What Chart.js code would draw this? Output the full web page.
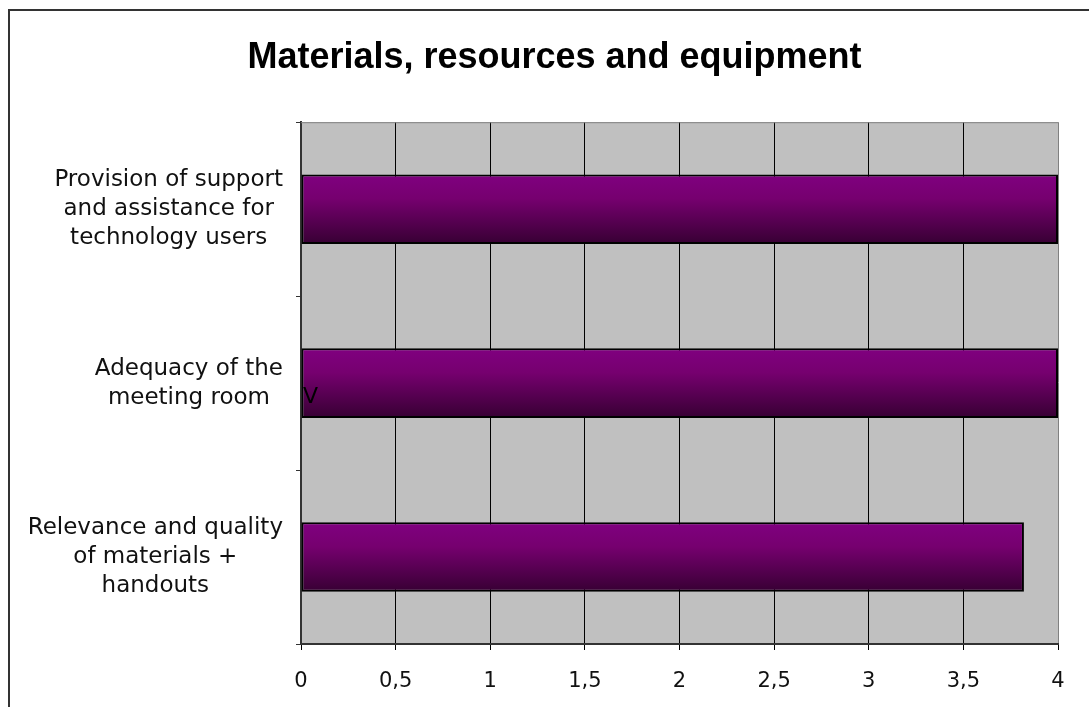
<!DOCTYPE html>
<html>
<head>
<meta charset="utf-8">
<title>Materials, resources and equipment</title>
<script src="https://cdn.jsdelivr.net/npm/chart.js@4.4.1/dist/chart.umd.min.js"></script>
<style>
  html, body { margin: 0; padding: 0; background: #fff; }
  #wrap { position: relative; width: 1089px; height: 707px; }
</style>
</head>
<body>
<div id="wrap"><canvas id="myChart"></canvas></div>
<script>
// categories, top to bottom
var categories = [
    ["Provision of support", "and assistance for", "technology users"],
    ["Adequacy of the", "meeting room"],
    ["Relevance and quality", "of materials +", "handouts"]
];
var scores = [4, 4, 3.82];
var xTickLabels = ["0", "0,5", "1", "1,5", "2", "2,5", "3", "3,5", "4"];
var barNote = "V";

var labelFont = '23px "DejaVu Sans"';

// grey plot area, frame and the hand-placed category labels
var excelLook = {
    id: 'excelLook',
    beforeDraw: function (chart) {
        var a = chart.chartArea, c = chart.ctx;
        c.save();
        c.fillStyle = '#c0c0c0';
        c.fillRect(a.left, a.top, a.right - a.left, a.bottom - a.top);
        c.restore();
    },
    afterDatasetsDraw: function (chart) {
        var c = chart.ctx, a = chart.chartArea;
        var y = chart.scales.y.getPixelForValue(1);
        c.save();
        c.font = '22px "DejaVu Sans"';
        c.fillStyle = '#000';
        c.textAlign = 'left';
        c.textBaseline = 'middle';
        c.fillText(barNote, a.left + 2, y + 14);
        c.restore();
    },
    afterDraw: function (chart) {
        var c = chart.ctx, a = chart.chartArea, yScale = chart.scales.y;
        c.save();
        // top edge of the plot
        c.strokeStyle = '#808080';
        c.lineWidth = 1;
        c.beginPath();
        c.moveTo(a.left, a.top + 0.5);
        c.lineTo(a.right, a.top + 0.5);
        c.stroke();

        // outer chart frame
        c.strokeStyle = '#333';
        c.lineWidth = 2;
        c.beginPath();
        c.moveTo(9, chart.height);
        c.lineTo(9, 10);
        c.lineTo(chart.width, 10);
        c.stroke();

        // multi-line category labels, block right aligned, lines centred
        c.font = labelFont;
        c.fillStyle = '#111';
        c.textAlign = 'center';
        c.textBaseline = 'middle';
        var lh = 29;
        categories.forEach(function (lines, i) {
            var maxW = 0;
            lines.forEach(function (t) { maxW = Math.max(maxW, c.measureText(t).width); });
            var cx = a.left - 18 - maxW / 2;
            var cy = yScale.getPixelForValue(i);
            var y0 = cy - (lines.length - 1) * lh / 2;
            lines.forEach(function (t, k) { c.fillText(t, cx, y0 + k * lh); });
        });
        c.restore();
    }
};

function barGradient(context) {
    var chart = context.chart;
    var yScale = chart.scales.y;
    if (!chart.chartArea || !yScale) return '#800080';
    var cy = yScale.getPixelForValue(context.dataIndex);
    var h = yScale.height / categories.length * 0.4;
    var g = chart.ctx.createLinearGradient(0, cy - h / 2, 0, cy + h / 2);
    g.addColorStop(0, '#800080');
    g.addColorStop(0.35, '#76006f');
    g.addColorStop(1, '#370033');
    return g;
}

var ctx = document.getElementById('myChart').getContext('2d');
var chart = new Chart(ctx, {
    type: 'bar',
    data: {
        labels: categories,
        datasets: [{
            data: scores,
            backgroundColor: barGradient,
            borderColor: '#000',
            borderWidth: 2,
            borderSkipped: false,
            categoryPercentage: 0.8,
            barPercentage: 0.5
        }]
    },
    options: {
        indexAxis: 'y',
        responsive: true,
        maintainAspectRatio: false,
        animation: false,
        layout: { padding: { left: 51, right: 31, top: 0, bottom: 0 } },
        plugins: {
            legend: { display: false },
            tooltip: { enabled: false },
            title: {
                display: true,
                text: 'Materials, resources and equipment',
                color: '#000',
                font: { family: '"Liberation Sans", Arial, sans-serif', size: 36, weight: 'bold', lineHeight: 1.2 },
                padding: { top: 36, bottom: 43 }
            }
        },
        scales: {
            x: {
                min: 0,
                max: 4,
                afterFit: function (s) { s.height = 63; },
                ticks: {
                    stepSize: 0.5,
                    padding: 19,
                    color: '#111',
                    font: { family: '"DejaVu Sans"', size: 21 },
                    callback: function (v, i) { return xTickLabels[i]; }
                },
                grid: {
                    color: function (c) { return c.index === xTickLabels.length - 1 ? '#808080' : '#000'; },
                    lineWidth: 1,
                    tickColor: '#000',
                    tickLength: 6
                },
                border: { color: '#333', width: 2 }
            },
            y: {
                afterFit: function (s) { s.width = 250; },
                ticks: { display: false },
                grid: {
                    drawOnChartArea: false,
                    tickColor: '#333',
                    tickLength: 5
                },
                border: { color: '#333', width: 2 }
            }
        }
    },
    plugins: [excelLook]
});
</script>
</body>
</html>
